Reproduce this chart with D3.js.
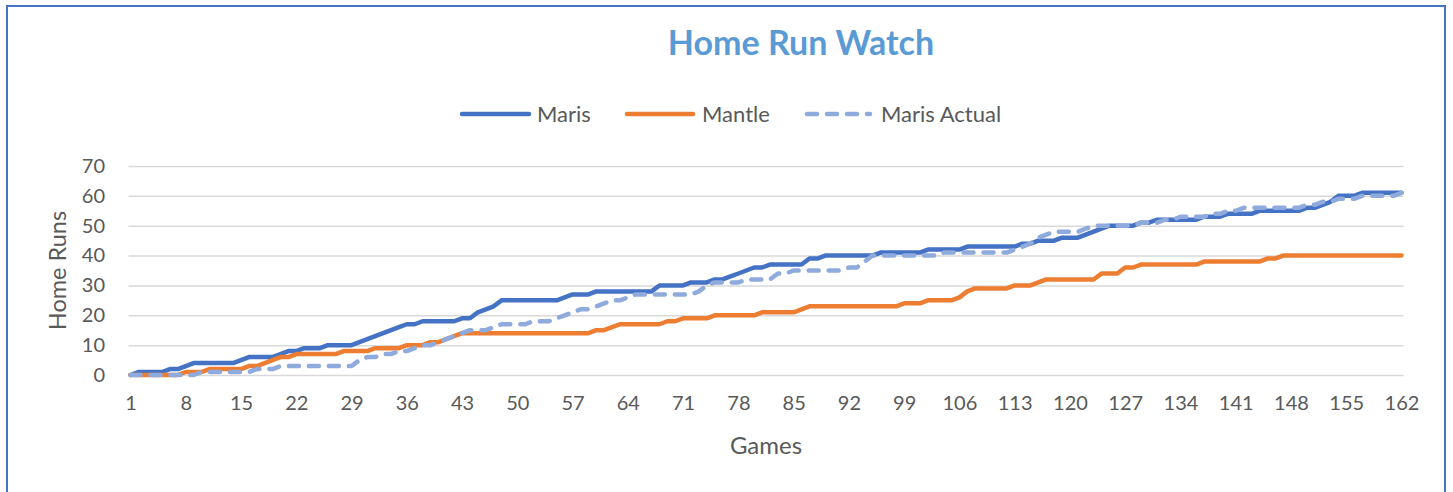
<!DOCTYPE html>
<html>
<head>
<meta charset="utf-8">
<script src="https://cdn.jsdelivr.net/npm/d3@7"></script>
<style>
  body { margin: 0; background: #fff; }
  text { font-family: Lato, "Open Sans", sans-serif; fill: #595959; }
</style>
</head>
<body>
<div id="chart"></div>
<script>
var svgWidth = 1453;
var svgHeight = 492;

// game-by-game running totals
var maris = [
  0,1,1,1,1,2,2,3,4,4,
  4,4,4,4,5,6,6,6,6,7,
  8,8,9,9,9,10,10,10,10,11,
  12,13,14,15,16,17,17,18,18,18,
  18,18,19,19,21,22,23,25,25,25,
  25,25,25,25,25,26,27,27,27,28,
  28,28,28,28,28,28,28,30,30,30,
  30,31,31,31,32,32,33,34,35,36,
  36,37,37,37,37,37,39,39,40,40,
  40,40,40,40,40,41,41,41,41,41,
  41,42,42,42,42,42,43,43,43,43,
  43,43,43,44,44,45,45,45,46,46,
  46,47,48,49,50,50,50,50,51,51,
  52,52,52,52,52,52,53,53,53,54,
  54,54,54,55,55,55,55,55,55,56,
  56,57,58,60,60,60,61,61,61,61,
  61,61
];

var mantle = [
  0,0,0,0,0,0,0,1,1,1,
  2,2,2,2,2,3,3,4,5,6,
  6,7,7,7,7,7,7,8,8,8,
  8,9,9,9,9,10,10,10,11,11,
  12,13,14,14,14,14,14,14,14,14,
  14,14,14,14,14,14,14,14,14,15,
  15,16,17,17,17,17,17,17,18,18,
  19,19,19,19,20,20,20,20,20,20,
  21,21,21,21,21,22,23,23,23,23,
  23,23,23,23,23,23,23,23,24,24,
  24,25,25,25,25,26,28,29,29,29,
  29,29,30,30,30,31,32,32,32,32,
  32,32,32,34,34,34,36,36,37,37,
  37,37,37,37,37,37,38,38,38,38,
  38,38,38,38,39,39,40,40,40,40,
  40,40,40,40,40,40,40,40,40,40,
  40,40
];

var marisActual = [
  0,0,0,0,0,0,0,0,0,1,
  1,1,1,1,1,1,2,2,2,3,
  3,3,3,3,3,3,3,3,3,5,
  6,6,7,7,8,8,9,10,10,11,
  12,13,14,15,15,15,16,17,17,17,
  17,18,18,18,19,20,21,22,22,23,
  24,25,25,26,27,27,27,27,27,27,
  27,27,28,30,31,31,31,31,32,32,
  32,32,34,34,35,35,35,35,35,35,
  35,36,36,38,40,40,40,40,40,40,
  40,40,40,41,41,41,41,41,41,41,
  41,41,42,43,44,46,47,48,48,48,
  48,49,50,50,50,50,50,50,51,51,
  51,52,52,53,53,53,53,54,54,55,
  55,56,56,56,56,56,56,56,56,57,
  57,58,58,59,59,59,60,60,60,60,
  60,61
];

var games = d3.range(1, 163);
var gameTicks = d3.range(1, 163, 7);
var runTicks = [0, 10, 20, 30, 40, 50, 60, 70];

var series = [
  { name: "Maris", values: maris, color: "#4472C4", dash: null },
  { name: "Mantle", values: mantle, color: "#ED7D31", dash: null },
  { name: "Maris Actual", values: marisActual, color: "#8FAADC", dash: "10 10" }
];

var plot = { left: 130.5, right: 1401.5, top: 166, bottom: 375 };

var svg = d3.select("#chart")
  .append("svg")
  .attr("width", svgWidth)
  .attr("height", svgHeight)
  .style("display", "block");

// chart frame
svg.append("rect")
  .attr("x", 7)
  .attr("y", 6)
  .attr("width", 1438)
  .attr("height", 500)
  .attr("fill", "#fff")
  .attr("stroke", "#4472C4")
  .attr("stroke-width", 2);

var xScale = d3.scaleLinear()
  .domain([1, 162])
  .range([plot.left, plot.right]);

var yScale = d3.scaleLinear()
  .domain([0, 70])
  .range([plot.bottom, plot.top]);

// gridlines
svg.append("g")
  .attr("transform", `translate(${plot.left - 2}, 0)`)
  .call(d3.axisLeft(yScale).tickValues(runTicks).tickSize(-(plot.right - plot.left + 4)).tickFormat(""))
  .call(g => g.select(".domain").remove())
  .call(g => g.selectAll("line").attr("stroke", "#D9D9D9").attr("stroke-width", 1.5));

// y tick labels
svg.append("g")
  .attr("transform", "translate(105, 0)")
  .call(d3.axisLeft(yScale).tickValues(runTicks).tickSize(0).tickPadding(0))
  .call(g => g.select(".domain").remove())
  .call(g => g.selectAll("text")
    .attr("font-size", "20px")
    .attr("font-family", "Lato, sans-serif")
    .attr("fill", "#595959"));

// x tick labels
svg.append("g")
  .attr("transform", `translate(0, ${plot.bottom})`)
  .call(d3.axisBottom(xScale).tickValues(gameTicks).tickSize(0).tickPadding(21))
  .call(g => g.select(".domain").remove())
  .call(g => g.selectAll("text")
    .attr("font-size", "20px")
    .attr("font-family", "Lato, sans-serif")
    .attr("fill", "#595959"));

// lines
var line = d3.line()
  .x((d, i) => xScale(games[i]))
  .y(d => yScale(d));

svg.append("g").selectAll("path")
  .data(series)
  .enter()
  .append("path")
  .attr("d", d => line(d.values))
  .attr("fill", "none")
  .attr("stroke", d => d.color)
  .attr("stroke-width", 4.5)
  .attr("stroke-linejoin", "round")
  .attr("stroke-linecap", "round")
  .attr("stroke-dasharray", d => d.dash);

// title
svg.append("text")
  .attr("x", 801)
  .attr("y", 55)
  .attr("text-anchor", "middle")
  .attr("font-size", "34px")
  .attr("font-weight", "bold")
  .style("fill", "#5B9BD5")
  .text("Home Run Watch");

// legend
var legendItems = [
  { s: series[0], x0: 462, x1: 529, tx: 537 },
  { s: series[1], x0: 627, x1: 693, tx: 702 },
  { s: series[2], x0: 807, x1: 870, tx: 881 }
];

var legend = svg.append("g").attr("transform", "translate(0, 114)");

legend.selectAll("line")
  .data(legendItems)
  .enter()
  .append("line")
  .attr("x1", d => d.x0)
  .attr("x2", d => d.x1)
  .attr("stroke", d => d.s.color)
  .attr("stroke-width", 4.5)
  .attr("stroke-linecap", "round")
  .attr("stroke-dasharray", d => d.s.dash);

legend.selectAll("text")
  .data(legendItems)
  .enter()
  .append("text")
  .attr("x", d => d.tx)
  .attr("dy", "0.35em")
  .attr("font-size", "22px")
  .text(d => d.s.name);

// axis titles
svg.append("text")
  .attr("x", (plot.left + plot.right) / 2)
  .attr("y", 454)
  .attr("text-anchor", "middle")
  .attr("font-size", "24px")
  .text("Games");

svg.append("text")
  .attr("transform", `translate(66, ${(plot.top + plot.bottom) / 2}) rotate(-90)`)
  .attr("text-anchor", "middle")
  .attr("font-size", "23.5px")
  .text("Home Runs");
</script>
</body>
</html>
